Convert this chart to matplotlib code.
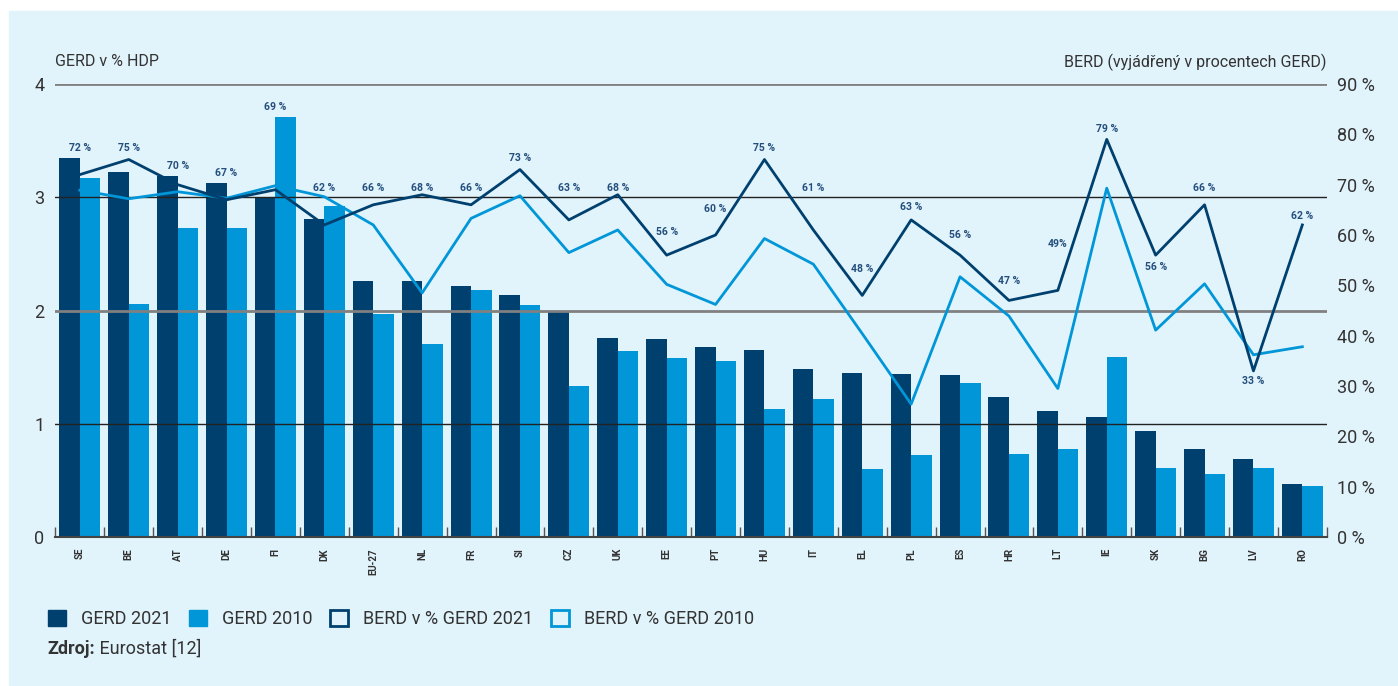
import matplotlib
matplotlib.use("Agg")
import matplotlib.pyplot as plt
import numpy as np
from matplotlib.patches import Patch, Rectangle

plt.rcParams['font.family'] = ['Roboto', 'DejaVu Sans']

countries = ['SE', 'BE', 'AT', 'DE', 'FI', 'DK', 'EU-27', 'NL', 'FR', 'SI', 'CZ', 'UK', 'EE',
             'PT', 'HU', 'IT', 'EL', 'PL', 'ES', 'HR', 'LT', 'IE', 'SK', 'BG', 'LV', 'RO']

gerd_2021 = [3.35, 3.22, 3.19, 3.13, 3.00, 2.81, 2.26, 2.26, 2.22, 2.14, 2.00, 1.76, 1.75,
             1.68, 1.65, 1.48, 1.45, 1.44, 1.43, 1.24, 1.11, 1.06, 0.94, 0.78, 0.69, 0.47]
gerd_2010 = [3.17, 2.06, 2.73, 2.73, 3.71, 2.92, 1.97, 1.70, 2.18, 2.05, 1.33, 1.64, 1.58,
             1.55, 1.13, 1.22, 0.60, 0.72, 1.36, 0.73, 0.78, 1.59, 0.61, 0.56, 0.61, 0.45]

berd_2021 = [72, 75, 70, 67, 69, 62, 66, 68, 66, 73, 63, 68, 56,
             60, 75, 61, 48, 63, 56, 47, 49, 79, 56, 66, 33, 62]
berd_2010 = [68.9, 67.2, 68.6, 67.3, 69.8, 67.6, 62.0, 48.5, 63.3, 67.8, 56.5, 61.0, 50.2,
             46.2, 59.3, 54.2, 40.4, 26.4, 51.7, 43.9, 29.5, 69.3, 41.1, 50.3, 36.2, 37.8]

berd_labels = ['72 %', '75 %', '70 %', '67 %', '69 %', '62 %', '66 %', '68 %', '66 %', '73 %',
               '63 %', '68 %', '56 %', '60 %', '75 %', '61 %', '48 %', '63 %', '56 %', '47 %',
               '49%', '79 %', '56 %', '66 %', '33 %', '62 %']
# where each label sits (right axis units)
label_y = [77.3, 77.3, 73.7, 72.3, 85.4, 69.3, 69.3, 69.3, 69.3, 75.3, 69.3, 69.3, 60.6,
           65.2, 77.3, 69.3, 53.2, 65.6, 60.0, 50.9, 58.2, 81.1, 53.6, 69.3, 31.0, 63.8]

dark = '#00406f'
light = '#0096d8'
bg = '#e1f3fb'
txt = '#333333'
lab_col = '#234e7d'

fig = plt.figure(figsize=(13.98, 6.86), dpi=100, facecolor='white')
fig.add_artist(Rectangle((9 / 1398, 0), 1 - 9 / 1398, 1 - 11 / 686,
                         transform=fig.transFigure, color=bg, zorder=-1))

ax = fig.add_axes([55.4 / 1398, (686 - 537) / 686, (1326.8 - 55.4) / 1398, (537 - 84) / 686])
ax.set_facecolor('none')

x = np.arange(len(countries))
w = 0.42
ax.bar(x - w / 2, gerd_2021, w, color=dark, zorder=2)
ax.bar(x + w / 2, gerd_2010, w, color=light, zorder=2)

for v in [1, 3]:
    ax.axhline(v, color='#222222', lw=1.0, zorder=3)
for v in [2, 4]:
    ax.axhline(v, color='#808080', lw=2.0, zorder=3)

ax.set_xlim(-0.5, len(countries) - 0.5)
ax.set_ylim(0, 4)
ax.set_yticks([0, 1, 2, 3, 4])
ax.tick_params(axis='y', length=0, labelsize=13, labelcolor=txt, pad=8)
ax.set_xticks(x)
ax.set_xticklabels(countries, rotation=90, fontsize=7, fontweight='bold', color=txt, va='top')
ax.tick_params(axis='x', which='major', length=0, pad=8)
ax.set_xticks(np.arange(-0.5, len(countries)), minor=True)
ax.tick_params(axis='x', which='minor', direction='in', length=7, width=1, color='#555555')
for s in ['top', 'right', 'left']:
    ax.spines[s].set_visible(False)
ax.spines['bottom'].set_color('#444444')
ax.spines['bottom'].set_linewidth(1.5)
ax.spines['bottom'].set_zorder(4)

ax2 = ax.twinx()
ax2.plot(x, berd_2010, color=light, lw=2.0, zorder=4)
ax2.plot(x, berd_2021, color=dark, lw=2.0, zorder=5)
ax2.set_ylim(0, 90)
ax2.set_yticks(range(0, 91, 10))
ax2.set_yticklabels([f'{v} %' for v in range(0, 91, 10)])
ax2.tick_params(axis='y', length=0, labelsize=13, labelcolor=txt, pad=7)
for s in ax2.spines.values():
    s.set_visible(False)

for i, (lbl, ly) in enumerate(zip(berd_labels, label_y)):
    ax2.text(x[i], ly, lbl, ha='center', va='center', fontsize=7.5,
             fontweight='bold', color=lab_col)

fig.text(55 / 1398, 1 - 62 / 686, 'GERD v % HDP', fontsize=11.5, color=txt, va='center', ha='left')
fig.text(1327 / 1398, 1 - 62 / 686, 'BERD (vyjádřený v procentech GERD)', fontsize=11.5,
         color=txt, va='center', ha='right')

handles = [Patch(facecolor=dark, edgecolor=dark),
           Patch(facecolor=light, edgecolor=light),
           Patch(facecolor='none', edgecolor=dark, linewidth=2),
           Patch(facecolor='none', edgecolor=light, linewidth=2)]
names = ['GERD 2021', 'GERD 2010', 'BERD v % GERD 2021', 'BERD v % GERD 2010']
fig.legend(handles, names, loc='center left', bbox_to_anchor=(32 / 1398, 1 - 619 / 686),
           ncol=4, frameon=False, fontsize=13, handlelength=1.0, handleheight=1.0,
           handletextpad=0.8, columnspacing=1.0, labelcolor=txt)

t = fig.text(47 / 1398, 1 - 649 / 686, 'Zdroj:', fontsize=13, fontweight='bold', color=txt,
             va='center', ha='left')
ax.annotate(' Eurostat [12]', xy=(1, 0.5), xycoords=t, fontsize=13, color=txt,
            va='center', ha='left', annotation_clip=False)

fig.savefig('out.png', dpi=100, facecolor='white')
